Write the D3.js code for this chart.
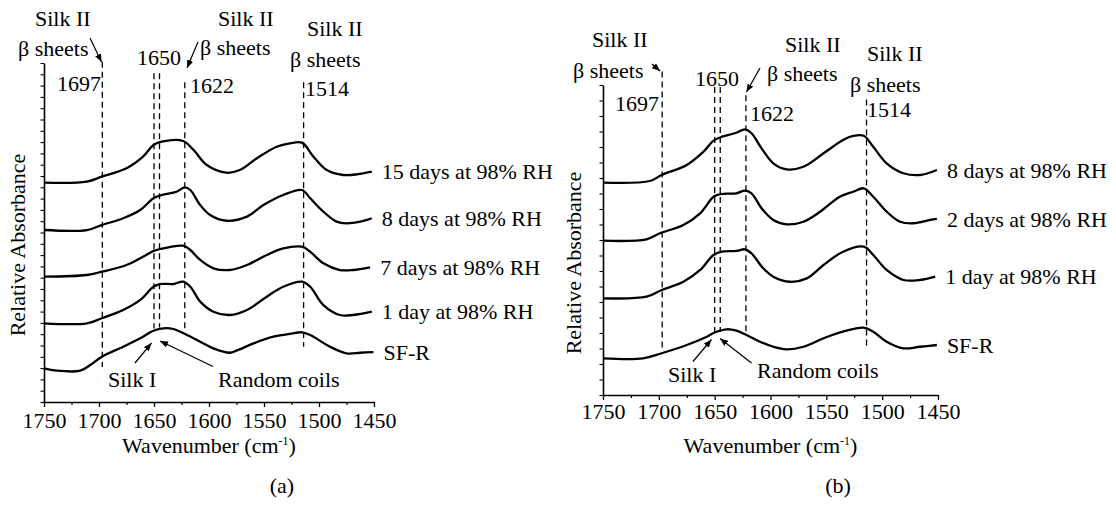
<!DOCTYPE html>
<html>
<head>
<meta charset="utf-8">
<script src="https://cdn.jsdelivr.net/npm/d3@7"></script>
<style>
  body { margin: 0; background: #fff; }
  svg text { font-family: "Liberation Serif", "Times New Roman", serif; fill: #000; }
</style>
</head>
<body>
<svg id="chart" width="1116" height="506"></svg>
<script>
// ---- Wavenumber axis ticks (cm^-1) ----
const majorTicks = [1750, 1700, 1650, 1600, 1550, 1500, 1450];
const minorTicks = [1725, 1675, 1625, 1575, 1525, 1475];

// ---- Assigned band positions (cm^-1) ----
const bandPositions = [1697, 1650, 1645, 1622, 1514];

// ---- Panel (a): spectra, [wavenumber, relative absorbance incl. stacking offset] ----
const panelALabels = ["15 days at 98% RH", "8 days at 98% RH", "7 days at 98% RH", "1 day at 98% RH", "SF-R"];
const a15days = [[1750,19.41],[1711,19.50],[1697.5,19.94],[1675,20.68],[1660,21.71],[1650.5,22.74],[1643,23.04],[1623.5,23.10],[1614,22.30],[1602,20.97],[1584,20.29],[1572,20.53],[1556.5,21.57],[1538.5,22.59],[1526.5,22.89],[1515.5,22.95],[1505,21.71],[1493,20.53],[1478,20.09],[1463,20.18],[1452,20.38]];
const a8days = [[1750,15.22],[1711,15.22],[1697.5,15.66],[1678,16.26],[1662.5,16.99],[1650.5,18.03],[1643,18.32],[1629.5,18.61],[1622,19.00],[1617,18.76],[1608,17.43],[1599,16.55],[1584,16.04],[1565.5,16.40],[1550.5,17.43],[1532.5,18.32],[1515.5,18.76],[1508,18.03],[1496,16.84],[1484,15.96],[1475,15.81],[1462.5,15.96],[1452,16.26]];
const a7days = [[1750,11.09],[1711,11.24],[1697.5,11.53],[1675,12.12],[1660,12.86],[1650.5,13.36],[1644.5,13.54],[1623.5,13.83],[1617,13.45],[1608,12.57],[1596,11.83],[1581,11.68],[1565.5,12.12],[1547.5,13.01],[1532.5,13.60],[1515.5,13.74],[1508,13.30],[1496,12.27],[1481,11.68],[1469,11.68],[1453.5,11.92]];
const a1day = [[1750,6.96],[1711,6.96],[1697.5,7.41],[1678,8.14],[1662.5,9.03],[1650.5,10.20],[1644.5,10.44],[1632.5,10.44],[1623.5,10.65],[1617,10.20],[1608,8.88],[1596,7.99],[1581,7.70],[1565.5,8.14],[1547.5,9.32],[1532.5,10.20],[1515.5,10.65],[1508,10.20],[1496,8.58],[1481,7.70],[1469,7.70],[1452,7.99]];
const aSFR = [[1750,2.98],[1738.5,2.77],[1717,2.77],[1708,3.27],[1697.5,4.01],[1678,4.89],[1662.5,5.64],[1650.5,6.31],[1641.5,6.52],[1632.5,6.46],[1620,5.93],[1608,5.34],[1596,4.75],[1581,4.36],[1575,4.54],[1559.5,5.19],[1541.5,5.78],[1526.5,6.02],[1515.5,6.17],[1508,5.93],[1490,4.89],[1475,4.31],[1462.5,4.36],[1450.5,4.42]];

// ---- Panel (b): spectra ----
const panelBLabels = ["8 days at 98% RH", "2 days at 98% RH", "1 day at 98% RH", "SF-R"];
const b8days = [[1750,20.55],[1708,20.71],[1697.5,21.29],[1675,22.26],[1660,23.55],[1651,24.61],[1643.5,25.00],[1630.5,25.38],[1623,25.71],[1617,25.33],[1608,23.87],[1597.5,22.42],[1585.5,21.84],[1570.5,22.09],[1552.5,23.39],[1535,24.68],[1526,25.07],[1516.5,25.09],[1508,24.03],[1496,22.42],[1481,21.46],[1466,21.29],[1451,21.77]];
const b2days = [[1750,14.93],[1711,15.07],[1699,15.65],[1678,16.45],[1663,17.58],[1651,19.19],[1645,19.45],[1630.5,19.52],[1623,19.77],[1617,19.52],[1608,18.07],[1597.5,16.94],[1585.5,16.52],[1570.5,16.77],[1555.5,17.74],[1538,19.19],[1526,19.67],[1516.5,20.00],[1508,19.19],[1496,17.74],[1484,16.77],[1472,16.62],[1457,16.94],[1451,17.05]];
const b1day = [[1750,9.36],[1711,9.51],[1697.5,10.16],[1678,10.96],[1663,12.10],[1651,13.55],[1643.5,13.87],[1630.5,13.94],[1623,14.10],[1617,13.71],[1606.5,12.26],[1597.5,11.45],[1582.5,10.96],[1567.5,11.29],[1552.5,12.58],[1535,13.87],[1516.5,14.35],[1508,13.55],[1496,12.10],[1481,11.13],[1466,11.13],[1452.5,11.45]];
const bSFR = [[1750,3.55],[1714,3.55],[1697.5,4.04],[1675,4.84],[1657,5.64],[1649.5,6.07],[1639,6.36],[1630.5,6.22],[1621.5,5.81],[1609.5,5.16],[1597.5,4.67],[1585.5,4.42],[1570.5,4.67],[1552.5,5.49],[1535,6.13],[1516.5,6.51],[1508,6.13],[1496,5.16],[1481,4.52],[1466,4.67],[1451,4.84]];

const svg = d3.select("#chart");

// arrowhead for the annotation pointers
svg.append("defs").append("marker")
  .attr("id", "arrowhead")
  .attr("viewBox", "0 0 10 8")
  .attr("refX", 10).attr("refY", 4)
  .attr("markerWidth", 8).attr("markerHeight", 6.5)
  .attr("markerUnits", "userSpaceOnUse")
  .attr("orient", "auto")
  .append("path").attr("d", "M0,0 L10,4 L0,8 Z").attr("fill", "#000");

function drawPanel(cfg) {
  const g = svg.append("g");
  const x = d3.scaleLinear().domain([1750, 1450]).range(cfg.xRange);
  const y = d3.scaleLinear().domain([0, 30]).range(cfg.yRange);

  // x axis: minor then major ticks
  g.append("g")
    .attr("transform", `translate(0,${cfg.yRange[0]})`)
    .call(d3.axisBottom(x).tickValues(minorTicks).tickSize(3).tickFormat(""))
    .call(s => s.select(".domain").remove())
    .call(s => s.selectAll("line").attr("stroke-width", 1.2));
  const xAxis = g.append("g")
    .attr("transform", `translate(0,${cfg.yRange[0]})`)
    .call(d3.axisBottom(x).tickValues(majorTicks).tickSize(5).tickSizeOuter(0)
      .tickPadding(cfg.tickPad).tickFormat(d3.format("d")));
  xAxis.select(".domain").attr("stroke-width", 1.6);
  xAxis.selectAll("line").attr("stroke-width", 1.3);
  xAxis.selectAll("text").attr("font-size", 22)
    .attr("font-family", "Liberation Serif, serif").attr("fill", "#000");

  // y axis: unlabelled ticks
  const yAxis = g.append("g")
    .attr("transform", `translate(${cfg.xRange[0]},0)`)
    .call(d3.axisLeft(y).tickValues(d3.range(0, 30.001, cfg.yStep)).tickSize(3.5).tickSizeOuter(0).tickFormat(""));
  yAxis.select(".domain").attr("stroke-width", 1.6);
  yAxis.selectAll("line").attr("stroke-width", 1.1);

  // band reference lines
  g.selectAll(".band").data(cfg.bands).join("line")
    .attr("x1", d => x(d.wn)).attr("x2", d => x(d.wn))
    .attr("y1", d => y(d.top)).attr("y2", d => y(d.bottom))
    .attr("stroke", "#000").attr("stroke-width", 1.3)
    .attr("stroke-dasharray", "6,4");

  // spectra
  const line = d3.line().x(d => x(d[0])).y(d => y(d[1])).curve(d3.curveCatmullRom.alpha(0.5));
  g.selectAll(".spectrum").data(cfg.series).join("path")
    .attr("d", d => line(d))
    .attr("fill", "none").attr("stroke", "#000")
    .attr("stroke-width", 2.3).attr("stroke-linejoin", "round");

  // series labels at the right end of each spectrum
  g.selectAll(".slabel").data(cfg.series).join("text")
    .attr("x", d => x(d[d.length - 1][0]) + 10)
    .attr("y", d => y(d[d.length - 1][1]))
    .attr("dy", "0.35em")
    .attr("font-size", 22)
    .text((d, i) => cfg.labels[i]);

  // text annotations
  g.selectAll(".note").data(cfg.notes).join("text")
    .attr("x", d => d.x).attr("y", d => d.y)
    .attr("font-size", 22)
    .text(d => d.t);

  // pointers
  g.selectAll(".pointer").data(cfg.arrows).join("line")
    .attr("x1", d => d[0]).attr("y1", d => d[1])
    .attr("x2", d => d[2]).attr("y2", d => d[3])
    .attr("stroke", "#000").attr("stroke-width", 1.2)
    .attr("marker-end", "url(#arrowhead)");

  // axis titles
  const mid = (cfg.xRange[0] + cfg.xRange[1]) / 2;
  const xt = g.append("text").attr("x", mid).attr("y", cfg.xTitleY)
    .attr("text-anchor", "middle").attr("font-size", 22);
  xt.append("tspan").text("Wavenumber (cm");
  xt.append("tspan").attr("font-size", 12).attr("dy", -8).text("-1");
  xt.append("tspan").attr("dy", 8).text(")");

  g.append("text")
    .attr("transform", `translate(${cfg.yTitleX},${cfg.yTitleY}) rotate(-90)`)
    .attr("text-anchor", "middle").attr("font-size", 22)
    .text("Relative Absorbance");

  g.append("text").attr("x", cfg.tagX).attr("y", 493)
    .attr("text-anchor", "middle").attr("font-size", 22).text(cfg.tag);
}

drawPanel({
  xRange: [44, 374], yRange: [402, 63], yStep: 1, tickPad: 5,
  series: [a15days, a8days, a7days, a1day, aSFR], labels: panelALabels,
  bands: [
    { wn: bandPositions[0], top: 30.1, bottom: 3.1 },
    { wn: bandPositions[1], top: 29.1, bottom: 6.5 },
    { wn: bandPositions[2], top: 29.1, bottom: 6.6 },
    { wn: bandPositions[3], top: 28.3, bottom: 6.2 },
    { wn: bandPositions[4], top: 28.3, bottom: 4.9 }
  ],
  notes: [
    { t: "Silk II", x: 35, y: 26 }, { t: "β sheets", x: 18, y: 56 }, { t: "1697", x: 57, y: 91 },
    { t: "1650", x: 137, y: 65 },
    { t: "Silk II", x: 218, y: 26 }, { t: "β sheets", x: 200, y: 55 }, { t: "1622", x: 190, y: 93 },
    { t: "Silk II", x: 307, y: 36 }, { t: "β sheets", x: 290, y: 67 }, { t: "1514", x: 305, y: 96 },
    { t: "Silk I", x: 108, y: 387 }, { t: "Random coils", x: 218, y: 387 }
  ],
  arrows: [[90, 38, 101.5, 62], [198, 42, 187, 68], [135, 363, 151.5, 343], [213, 366.5, 160, 341]],
  xTitleY: 453, yTitleX: 25, yTitleY: 245, tagX: 282, tag: "(a)"
});

drawPanel({
  xRange: [603, 938], yRange: [395, 85], yStep: 1.5, tickPad: 3,
  series: [b8days, b2days, b1day, bSFR], labels: panelBLabels,
  bands: [
    { wn: bandPositions[0], top: 31.3, bottom: 4.3 },
    { wn: bandPositions[1], top: 29.8, bottom: 6.1 },
    { wn: bandPositions[2], top: 29.8, bottom: 6.1 },
    { wn: bandPositions[3], top: 29.0, bottom: 5.8 },
    { wn: bandPositions[4], top: 28.6, bottom: 4.8 }
  ],
  notes: [
    { t: "Silk II", x: 592, y: 47 }, { t: "β sheets", x: 573, y: 78 }, { t: "1697", x: 615, y: 111 },
    { t: "1650", x: 695, y: 86 },
    { t: "Silk II", x: 785, y: 52 }, { t: "β sheets", x: 767, y: 81 }, { t: "1622", x: 750, y: 121 },
    { t: "Silk II", x: 867, y: 61 }, { t: "β sheets", x: 850, y: 92 }, { t: "1514", x: 867, y: 117 },
    { t: "Silk I", x: 668, y: 382 }, { t: "Random coils", x: 757, y: 378 }
  ],
  arrows: [[652, 64, 660, 71], [760, 68, 746.5, 92], [693, 361.5, 711.5, 339.5], [751.5, 363, 720, 338.5]],
  xTitleY: 453, yTitleX: 581, yTitleY: 263, tagX: 838, tag: "(b)"
});
</script>
</body>
</html>
